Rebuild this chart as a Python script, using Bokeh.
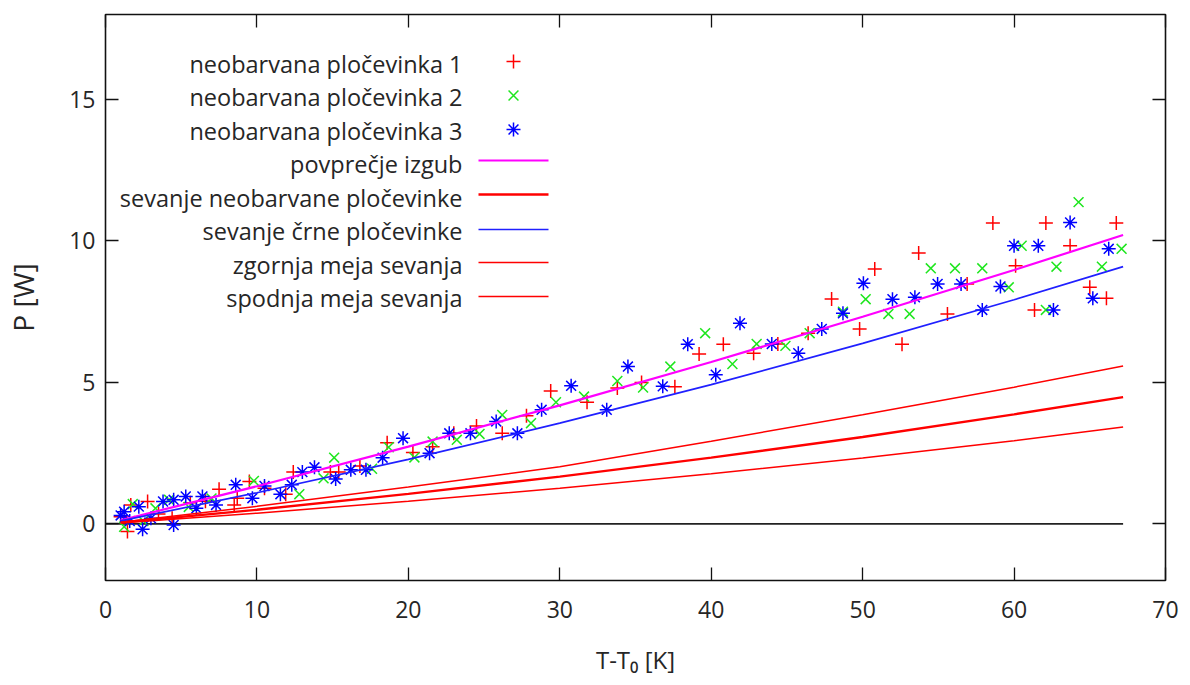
from bokeh.plotting import figure
from bokeh.models import Range1d, LinearAxis, FixedTicker
from bokeh.embed import file_html
from bokeh.resources import INLINE
from bokeh.core.properties import value

FONT = "Open Sans"

# ---------------- data ----------------
s1_x = [1.0, 1.45, 1.67, 2.78, 3.5, 4.4, 5.6, 6.6, 7.5, 8.5, 8.7, 9.5, 10.5, 11.9, 12.4,
        14.85, 15.4, 16.8, 18.6, 20.3, 21.6, 23.0, 24.5, 26.2, 27.8, 29.4, 31.8, 33.8,
        35.4, 37.6, 39.2, 40.8, 42.8, 44.4, 46.4, 47.95, 49.8, 50.8, 52.6, 53.7, 55.6,
        56.9, 58.6, 60.1, 61.35, 62.1, 63.7, 65.0, 66.1, 66.75]
s1_y = [0.25, -0.27, 0.67, 0.79, 0.35, 0.2, 0.75, 0.8, 1.22, 0.67, 0.91, 1.5, 1.26, 1.05, 1.83,
        1.83, 1.83, 2.05, 2.87, 2.52, 2.73, 3.2, 3.46, 3.2, 3.82, 4.7, 4.3, 4.8,
        5.0, 4.85, 6.0, 6.35, 6.03, 6.36, 6.74, 7.95, 6.89, 9.01, 6.35, 9.57, 7.42,
        8.48, 10.63, 9.12, 7.56, 10.63, 9.83, 8.36, 7.97, 10.63]

s2_x = [1.23, 1.8, 2.5, 3.3, 4.2, 5.5, 7.0, 9.8, 12.8, 14.4, 15.1, 17.6, 18.7, 20.4, 21.6,
        23.2, 24.7, 26.2, 28.1, 29.75, 31.6, 33.8, 35.5, 37.3, 39.6, 41.4, 43.0, 44.9,
        46.5, 48.7, 50.2, 51.7, 53.1, 54.5, 56.1, 57.9, 59.65, 60.5, 62.1, 62.8, 64.26,
        65.8, 67.1]
s2_y = [-0.1, 0.7, 0.1, 0.55, 0.85, 0.6, 0.9, 1.52, 1.05, 1.61, 2.34, 1.95, 2.71, 2.35, 2.91,
        2.97, 3.18, 3.85, 3.56, 4.3, 4.5, 5.05, 4.82, 5.56, 6.74, 5.65, 6.36, 6.29,
        6.74, 7.5, 7.94, 7.42, 7.42, 9.03, 9.03, 9.03, 8.36, 9.83, 7.56, 9.09, 11.37,
        9.09, 9.72]

s3_x = [1.0, 1.23, 1.6, 2.2, 2.45, 3.0, 3.8, 4.5, 4.5, 5.3, 6.0, 6.4, 7.3, 8.6, 9.7, 10.5,
        11.55, 12.3, 13.0, 13.8, 15.2, 16.2, 17.2, 18.3, 19.65, 21.4, 22.7, 24.1, 25.8,
        27.2, 28.8, 30.75, 33.1, 34.5, 36.8, 38.45, 40.3, 41.9, 44.0, 45.75, 47.3, 48.7,
        50.05, 51.97, 53.45, 54.95, 56.5, 57.9, 59.1, 60.0, 61.6, 62.6, 63.7, 65.2, 66.25]
s3_y = [0.3, 0.43, 0.1, 0.61, -0.19, 0.2, 0.79, 0.85, -0.04, 0.97, 0.55, 0.97, 0.67, 1.38, 0.91, 1.34,
        1.05, 1.38, 1.83, 2.0, 1.59, 1.91, 1.91, 2.34, 3.03, 2.5, 3.2, 3.2, 3.62,
        3.2, 4.03, 4.88, 4.03, 5.56, 4.86, 6.35, 5.27, 7.09, 6.36, 6.03, 6.89, 7.44,
        8.5, 7.94, 8.01, 8.48, 8.48, 7.56, 8.39, 9.83, 9.83, 7.56, 10.65, 7.97, 9.72]

curve_x = [1.0, 10, 20, 30, 40, 50, 60, 67.2]
avg_loss = [0.13, 1.33, 2.73, 4.19, 5.72, 7.32, 8.97, 10.21]
rad_bare = [0.048, 0.50, 1.06, 1.67, 2.34, 3.07, 3.87, 4.48]
rad_black = [0.105, 1.10, 2.28, 3.56, 4.92, 6.38, 7.92, 9.09]
rad_upper = [0.058, 0.62, 1.30, 2.02, 2.92, 3.86, 4.83, 5.58]
rad_lower = [0.036, 0.38, 0.80, 1.26, 1.77, 2.33, 2.94, 3.42]

zero_x = [0.0, 67.2]
zero_y = [0.0, 0.0]

x_ticks = [0, 10, 20, 30, 40, 50, 60, 70]
y_ticks = [0, 5, 10, 15]

legend_labels = ["neobarvana pločevinka 1", "neobarvana pločevinka 2",
                 "neobarvana pločevinka 3", "povprečje izgub",
                 "sevanje neobarvane pločevinke", "sevanje črne pločevinke",
                 "zgornja meja sevanja", "spodnja meja sevanja"]

RED, GREEN, BLUE, MAG = "#ff0000", "#1ee61e", "#0000ff", "#ff00ff"
TXT = "#262626"

# ---------------- figure ----------------
p = figure(width=1190, height=685, x_range=Range1d(0, 70), y_range=Range1d(-2, 18),
           output_backend="svg", toolbar_location=None,
           min_border_left=105, min_border_right=25, min_border_top=14, min_border_bottom=105)
p.background_fill_color = "white"
p.border_fill_color = "white"
p.grid.visible = False
p.outline_line_color = "#111111"
p.outline_line_width = 1.6

FRAME_W, FRAME_H = 1060, 566
p.extra_x_ranges = {"kx": Range1d(0, FRAME_W)}
p.extra_y_ranges = {"ky": Range1d(FRAME_H, 0)}


def style_axis(ax, ticks, show_labels=True):
    ax.ticker = FixedTicker(ticks=ticks)
    ax.major_tick_in = 13
    ax.major_tick_out = 0
    ax.minor_tick_in = 0
    ax.minor_tick_out = 0
    ax.major_tick_line_color = "#111111"
    ax.major_tick_line_width = 1.3
    ax.axis_line_color = None
    ax.major_label_text_font = FONT
    ax.major_label_text_font_size = "23px"
    ax.major_label_text_color = TXT
    if not show_labels:
        ax.major_label_overrides = {t: "" for t in ticks}
        ax.major_label_standoff = 0


xa = p.xaxis[0]
ya = p.yaxis[0]
style_axis(xa, x_ticks)
style_axis(ya, y_ticks)
xa.major_label_standoff = 20
ya.major_label_standoff = 10
xa.axis_label = "T-T\u2080 [K]"
xa.axis_label_text_font = FONT
xa.axis_label_text_font_size = "24px"
xa.axis_label_text_font_style = "normal"
xa.axis_label_text_color = TXT
xa.axis_label_standoff = 22
ya.axis_label = "P [W]"
ya.axis_label_text_font = FONT
ya.axis_label_text_font_size = "28px"
ya.axis_label_text_font_style = "normal"
ya.axis_label_text_color = TXT
ya.axis_label_standoff = 24

ra = LinearAxis()
style_axis(ra, y_ticks, show_labels=False)
p.add_layout(ra, "right")
ta = LinearAxis()
style_axis(ta, x_ticks, show_labels=False)
p.add_layout(ta, "above")

# ---------------- data marks ----------------
p.line(zero_x, zero_y, line_color="#222222", line_width=1.6)

MS = 14
p.scatter(s1_x, s1_y, marker="cross", size=MS, line_color=RED, line_width=1.5)
p.scatter(s2_x, s2_y, marker="x", size=MS, line_color=GREEN, line_width=1.5)
p.scatter(s3_x, s3_y, marker="asterisk", size=MS, line_color=BLUE, line_width=1.5)

p.line(curve_x, avg_loss, line_color=MAG, line_width=2.2)
p.line(curve_x, rad_bare, line_color=RED, line_width=2.4)
p.line(curve_x, rad_black, line_color="#2020ff", line_width=1.7)
p.line(curve_x, rad_upper, line_color=RED, line_width=1.5)
p.line(curve_x, rad_lower, line_color=RED, line_width=1.5)

# ---------------- gnuplot-style key (text right, sample to its right) ----------------
key_text_x = [357] * 8
key_text_y = [49, 82.5, 116, 149.5, 183, 216.5, 250, 283.5]
p.text(x=key_text_x, y=key_text_y, text=legend_labels,
       x_range_name="kx", y_range_name="ky",
       text_font=value(FONT), text_font_size="23.5px", text_color=TXT,
       text_align="right", text_baseline="middle")

mk_x = [408]
p.scatter(mk_x, [47], marker="cross", size=MS, line_color=RED, line_width=1.5,
          x_range_name="kx", y_range_name="ky")
p.scatter(mk_x, [81], marker="x", size=MS, line_color=GREEN, line_width=1.5,
          x_range_name="kx", y_range_name="ky")
p.scatter(mk_x, [115], marker="asterisk", size=MS, line_color=BLUE, line_width=1.5,
          x_range_name="kx", y_range_name="ky")

seg_x0 = [373] * 5
seg_x1 = [443] * 5
seg_y = [146, 180, 215, 248, 282]
seg_col = [MAG, RED, "#2020ff", RED, RED]
seg_w = [2.2, 2.4, 1.7, 1.5, 1.5]
p.segment(x0=seg_x0, y0=seg_y, x1=seg_x1, y1=seg_y, line_color=seg_col, line_width=seg_w,
          x_range_name="kx", y_range_name="ky")

open("out.html", "w").write(file_html(p, INLINE))
